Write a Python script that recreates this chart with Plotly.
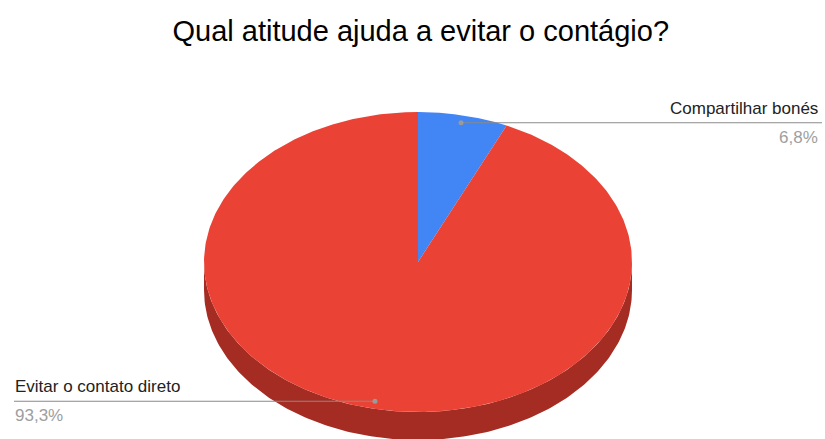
import numpy as np
import plotly.graph_objects as go

# data
labels = ["Compartilhar bonés", "Evitar o contato direto"]
values = [6.8, 93.3]
pct_text = ["6,8%", "93,3%"]
colors = ["#4285f4", "#ea4335"]
side_colors = ["#2a5db0", "#a52c22"]
title = "Qual atitude ajuda a evitar o contágio?"

# pseudo-3d pie geometry (pixel units)
W, H = 825, 439
cx, cy = 418, 262
rx, ry = 214, 150
depth = 28
FONT = "Arial, Liberation Sans, sans-serif"


def pt(frac, r=1.0, dy=0.0):
    a = 2 * np.pi * frac
    return cx + rx * r * np.sin(a), cy - ry * r * np.cos(a) + dy


fig = go.Figure()

total = sum(values)
fracs = np.cumsum([0] + values) / total

# side walls (only the front half, fractions 0.25..0.75 are visible)
for i in range(len(values)):
    a0, a1 = max(fracs[i], 0.25), min(fracs[i + 1], 0.75)
    if a1 <= a0:
        continue
    t = np.linspace(a0, a1, 200)
    xt, yt = pt(t)
    xb, yb = pt(t[::-1], dy=depth)
    fig.add_trace(go.Scatter(x=np.r_[xt, xb], y=np.r_[yt, yb], fill="toself",
                             fillcolor=side_colors[i], mode="lines",
                             line=dict(width=0), hoverinfo="skip", showlegend=False))

# top face
for i in range(len(values)):
    t = np.linspace(fracs[i], fracs[i + 1], 400)
    xs, ys = pt(t)
    fig.add_trace(go.Scatter(x=np.r_[cx, xs, cx], y=np.r_[cy, ys, cy], fill="toself",
                             fillcolor=colors[i], mode="lines",
                             line=dict(width=0), name=labels[i],
                             hoverinfo="name", showlegend=False))

# leader lines + labels
for i in range(len(values)):
    mid = (fracs[i] + fracs[i + 1]) / 2
    dx, dy = pt(mid, r=0.95)
    right = dx >= cx
    ex = 822 if right else 14
    fig.add_trace(go.Scatter(x=[dx, ex], y=[dy, dy], mode="lines",
                             line=dict(color="#8a8a8a", width=1.2),
                             hoverinfo="skip", showlegend=False))
    fig.add_trace(go.Scatter(x=[dx], y=[dy], mode="markers",
                             marker=dict(color="#9a9a9a", size=5),
                             hoverinfo="skip", showlegend=False))
    anchor = "right" if right else "left"
    tx = 820 if right else 13
    fig.add_annotation(x=tx, y=dy - 3, text=labels[i], showarrow=False,
                       xanchor=anchor, yanchor="bottom",
                       font=dict(family=FONT, size=17, color="#222222"))
    fig.add_annotation(x=tx, y=dy + 3, text=pct_text[i], showarrow=False,
                       xanchor=anchor, yanchor="top",
                       font=dict(family=FONT, size=17, color="#9e9e9e"))

fig.update_layout(
    width=W, height=H,
    margin=dict(l=0, r=0, t=0, b=0),
    paper_bgcolor="white", plot_bgcolor="white",
    title=dict(text=title, x=0.51, xanchor="center", y=0.93, yanchor="middle",
               font=dict(family=FONT, size=29, color="#000000")),
    xaxis=dict(range=[0, W], visible=False, fixedrange=True),
    yaxis=dict(range=[H, 0], visible=False, fixedrange=True),
)

fig.write_html("out.html", config={"displayModeBar": False},
               post_script="document.body.style.margin='0';")
